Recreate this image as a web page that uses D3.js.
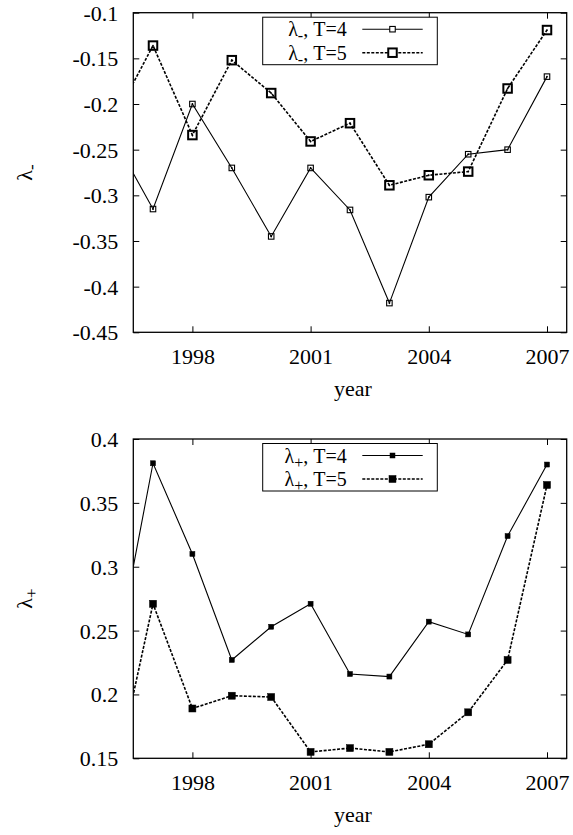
<!DOCTYPE html>
<html>
<head>
<meta charset="utf-8">
<script src="https://cdn.jsdelivr.net/npm/d3@7"></script>
<style>
  html, body { margin: 0; padding: 0; background: #fff; }
  svg { display: block; }
  svg text { font-family: "Liberation Serif", "Times New Roman", serif; }
</style>
</head>
<body>
<svg id="chart" width="573" height="835"></svg>
<script>
// Years (1996 lies just outside the visible range; its segment is clipped at the frame)
const years = [1996, 1997, 1998, 1999, 2000, 2001, 2002, 2003, 2004, 2005, 2006, 2007];

// Lower eigenvalue λ-
const lamMinusT4 = [-0.237, -0.315, -0.200, -0.270, -0.345, -0.270, -0.316, -0.418, -0.302, -0.255, -0.250, -0.170];
const lamMinusT5 = [-0.218, -0.136, -0.234, -0.152, -0.188, -0.241, -0.221, -0.289, -0.278, -0.274, -0.183, -0.119];

// Upper eigenvalue λ+
const lamPlusT4 = [0.219, 0.381, 0.310, 0.227, 0.253, 0.271, 0.216, 0.214, 0.257, 0.247, 0.324, 0.380];
const lamPlusT5 = [0.129, 0.271, 0.189, 0.199, 0.198, 0.155, 0.158, 0.155, 0.161, 0.186, 0.227, 0.364];

// Axis ticks and labels
const xTicks = [1998, 2001, 2004, 2007];
const xDomain = [1996.5, 2007.5];
const yTicksTop = [-0.45, -0.4, -0.35, -0.3, -0.25, -0.2, -0.15, -0.1];
const yLabelsTop = ["-0.45", "-0.4", "-0.35", "-0.3", "-0.25", "-0.2", "-0.15", "-0.1"];
const yTicksBottom = [0.15, 0.2, 0.25, 0.3, 0.35, 0.4];
const yLabelsBottom = ["0.15", "0.2", "0.25", "0.3", "0.35", "0.4"];

const svg = d3.select("#chart");
const SERIF = '"Liberation Serif", "Times New Roman", serif';

function panel(opts) {
  const { top, bottom, left, right, yDomain, yTicks, yLabels, sym, series, id, filled } = opts;
  const x = d3.scaleLinear().domain(xDomain).range([left, right]);
  const y = d3.scaleLinear().domain(yDomain).range([bottom, top]);
  const g = svg.append("g");

  g.append("clipPath").attr("id", id)
    .append("rect").attr("x", left).attr("y", top)
    .attr("width", right - left).attr("height", bottom - top);

  const tick = 6;
  // y ticks (left, inward) and mirrored ticks on right
  const yAxisL = d3.axisLeft(y).tickValues(yTicks).tickSizeInner(-tick).tickSizeOuter(0)
    .tickFormat((d, i) => yLabels[i]).tickPadding(15);
  const gl = g.append("g").attr("transform", `translate(${left},0)`).call(yAxisL);
  const yAxisR = d3.axisRight(y).tickValues(yTicks).tickSizeInner(-tick).tickSizeOuter(0).tickFormat("");
  const gr = g.append("g").attr("transform", `translate(${right},0)`).call(yAxisR);
  // x ticks bottom (inward) and top
  const xAxisB = d3.axisBottom(x).tickValues(xTicks).tickSizeInner(-tick).tickSizeOuter(0)
    .tickFormat(d3.format("d")).tickPadding(16);
  const gb = g.append("g").attr("transform", `translate(0,${bottom})`).call(xAxisB);
  const xAxisT = d3.axisTop(x).tickValues(xTicks).tickSizeInner(-tick).tickSizeOuter(0).tickFormat("");
  const gt = g.append("g").attr("transform", `translate(0,${top})`).call(xAxisT);
  [gl, gr, gb, gt].forEach(a => {
    a.attr("font-family", SERIF).attr("font-size", 22);
    a.select(".domain").remove();
    a.selectAll("line").attr("stroke", "#000").attr("stroke-width", 1);
    a.selectAll("text").style("font-family", SERIF).style("font-size", "22px").attr("fill", "#000");
  });
  gl.selectAll("text").attr("dy", "0.34em");
  gb.selectAll("text").attr("dy", "0.72em");

  // series
  const line = d3.line().x((d, i) => x(years[i])).y(d => y(d));
  const plot = g.append("g").attr("clip-path", `url(#${id})`);
  series.forEach(s => {
    plot.append("path").datum(s.values).attr("d", line)
      .attr("fill", "none").attr("stroke", "#000")
      .attr("stroke-width", s.width).attr("stroke-dasharray", s.dash || null);
    const pts = s.values.map((v, i) => ({ yr: years[i], v }));
    plot.selectAll(null).data(pts).join("rect")
      .attr("x", d => x(d.yr) - s.size / 2).attr("y", d => y(d.v) - s.size / 2)
      .attr("width", s.size).attr("height", s.size)
      .attr("fill", filled ? "#000" : "none").attr("stroke", "#000")
      .attr("stroke-width", s.markerStroke);
    if (!filled) {
      plot.selectAll(null).data(pts).join("circle")
        .attr("cx", d => x(d.yr)).attr("cy", d => y(d.v)).attr("r", 0.9).attr("fill", "#000");
    }
  });

  // frame
  g.append("rect").attr("x", left).attr("y", top).attr("width", right - left).attr("height", bottom - top)
    .attr("fill", "none").attr("stroke", "#000").attr("stroke-width", 1.3);

  // legend
  const lg = g.append("g");
  const lx0 = 262.7, lx1 = 437.3, ly0 = top + 4.5, ly1 = top + 52;
  lg.append("rect").attr("x", lx0).attr("y", ly0).attr("width", lx1 - lx0).attr("height", ly1 - ly0)
    .attr("fill", "#fff").attr("stroke", "#000").attr("stroke-width", 1);
  series.forEach((s, k) => {
    const cy = top + 16.5 + k * 23.5;
    const t = lg.append("text").attr("x", 346.7).attr("y", cy + 7).attr("text-anchor", "end")
      .attr("font-size", 20).attr("fill", "#000");
    t.append("tspan").text("λ");
    t.append("tspan").attr("font-size", 16).attr("dy", 5).text(sym);
    t.append("tspan").attr("dy", -5).text(", T=" + s.T);
    lg.append("line").attr("x1", 362.3).attr("x2", 422.7).attr("y1", cy).attr("y2", cy)
      .attr("stroke", "#000").attr("stroke-width", s.width).attr("stroke-dasharray", s.dash || null);
    lg.append("rect").attr("x", 392.5 - s.size / 2).attr("y", cy - s.size / 2)
      .attr("width", s.size).attr("height", s.size)
      .attr("fill", filled ? "#000" : "#fff").attr("stroke", "#000").attr("stroke-width", s.markerStroke);
  });

  // axis titles
  g.append("text").attr("x", (left + right) / 2 + 3).attr("y", bottom + 63.5)
    .attr("text-anchor", "middle").attr("font-size", 22).attr("fill", "#000").text("year");
  const yl = g.append("text")
    .attr("transform", `translate(32,${(top + bottom) / 2}) rotate(-90)`)
    .attr("text-anchor", "middle").attr("font-size", 22).attr("fill", "#000");
  yl.append("tspan").text("λ");
  yl.append("tspan").attr("font-size", 17).attr("dy", 5).text(sym);
}

panel({
  id: "clipTop", top: 12.7, bottom: 332.3, left: 133.3, right: 566.7,
  yDomain: [-0.45, -0.1], yTicks: yTicksTop, yLabels: yLabelsTop, sym: "-", filled: false,
  series: [
    { values: lamMinusT4, T: 4, width: 1.1, size: 5.5, markerStroke: 1.1 },
    { values: lamMinusT5, T: 5, width: 1.6, dash: "3,1.5", size: 8.5, markerStroke: 2 }
  ]
});

panel({
  id: "clipBottom", top: 439, bottom: 758.3, left: 133.3, right: 566.7,
  yDomain: [0.15, 0.4], yTicks: yTicksBottom, yLabels: yLabelsBottom, sym: "+", filled: true,
  series: [
    { values: lamPlusT4, T: 4, width: 1.1, size: 5, markerStroke: 0.5 },
    { values: lamPlusT5, T: 5, width: 1.6, dash: "3,1.5", size: 7, markerStroke: 0.5 }
  ]
});
</script>
</body>
</html>
